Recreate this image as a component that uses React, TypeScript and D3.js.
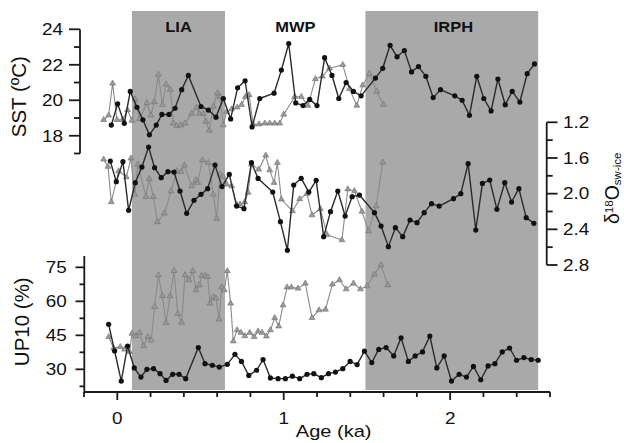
import React from "react";
import * as d3 from "d3";

// ---------------- DATA ----------------
const bandNames = ["LIA", "MWP", "IRPH"];
const shadedBands: [number, number][] = [[0.088, 0.647], [1.491, 2.529]];
const bandLabelAges = [0.368, 1.07, 2.02];

const ageTicks = [0, 1, 2];
const sstTicks = [18, 20, 22, 24];
const d18Ticks = [1.2, 1.6, 2.0, 2.4, 2.8];
const up10Ticks = [30, 45, 60, 75];

// SST (ºC), black circles [age ka, value]
const sstBlack: [number, number][] = [
  [-0.036, 18.6], [0.002, 19.8], [0.042, 18.7], [0.078, 20.5], [0.118, 19.6], [0.154, 18.9],
  [0.193, 18.05], [0.234, 18.6], [0.268, 19.2], [0.311, 19.2], [0.347, 19.55], [0.387, 20.6],
  [0.427, 21.4], [0.503, 19.65], [0.547, 19.45], [0.593, 19.05], [0.637, 20.1], [0.681, 18.95],
  [0.723, 20.7], [0.768, 21.1], [0.81, 18.5], [0.856, 20.1], [0.942, 20.4], [0.986, 21.7],
  [1.03, 23.2], [1.072, 19.85], [1.116, 19.7], [1.156, 20.05], [1.2, 19.7], [1.246, 22.4],
  [1.29, 21.4], [1.331, 20.1], [1.375, 21.0], [1.419, 20.5], [1.465, 20.25], [1.551, 21.25],
  [1.595, 21.8], [1.639, 23.1], [1.681, 22.45], [1.725, 22.8], [1.768, 21.6], [1.81, 21.9],
  [1.854, 21.35], [1.898, 20.15], [1.942, 20.6], [2.028, 20.25], [2.072, 20.0], [2.116, 19.15],
  [2.16, 21.35], [2.202, 20.1], [2.246, 19.4], [2.287, 21.2], [2.331, 19.75], [2.373, 20.5],
  [2.419, 19.9], [2.463, 21.5], [2.507, 22.05],
];

// SST (ºC), gray triangles
const sstGray: [number, number][] = [
  [-0.082, 18.9], [-0.052, 19.15], [-0.028, 20.95], [-0.002, 18.9], [0.032, 18.9], [0.062, 19.45],
  [0.088, 18.85], [0.108, 20.05], [0.134, 18.95], [0.178, 19.85], [0.202, 19.15], [0.222, 19.9],
  [0.247, 21.45], [0.271, 19.75], [0.293, 20.9], [0.319, 20.6], [0.337, 18.7], [0.357, 18.55],
  [0.381, 18.6], [0.407, 18.7], [0.447, 19.25], [0.477, 19.6], [0.493, 19.25], [0.517, 19.25],
  [0.533, 18.8], [0.553, 18.3], [0.577, 19.65], [0.601, 20.4], [0.617, 20.2], [0.637, 18.6],
  [0.657, 19.35], [0.687, 19.5], [0.72, 19.6], [0.747, 19.75], [0.77, 20.2], [0.792, 20.3],
  [0.816, 18.65], [0.852, 18.65], [0.886, 18.7], [0.916, 18.7], [0.946, 18.7], [0.976, 18.7],
  [1.0, 19.2], [1.066, 20.2], [1.106, 20.2], [1.146, 19.7], [1.19, 21.2], [1.232, 21.35],
  [1.275, 21.8], [1.355, 22.0], [1.395, 20.65], [1.439, 19.7], [1.475, 20.85], [1.515, 21.5],
  [1.559, 20.5], [1.6, 19.75],
];

// δ18O sw-ice, black circles
const d18Black: [number, number][] = [
  [-0.042, 1.635], [-0.006, 1.866], [0.034, 1.641], [0.068, 2.187], [0.108, 1.877], [0.148, 1.702],
  [0.188, 1.478], [0.224, 1.709], [0.264, 1.821], [0.304, 1.754], [0.341, 1.758], [0.377, 1.971],
  [0.417, 2.221], [0.461, 2.075], [0.503, 2.008], [0.543, 1.944], [0.587, 1.68], [0.629, 1.921],
  [0.673, 1.784], [0.717, 2.139], [0.761, 2.168], [0.806, 1.653], [0.846, 1.829], [0.934, 1.982],
  [0.98, 2.314], [1.022, 2.635], [1.06, 1.904], [1.105, 1.828], [1.151, 1.982], [1.195, 1.851],
  [1.24, 2.482], [1.281, 2.202], [1.325, 1.971], [1.369, 2.251], [1.411, 2.034], [1.455, 2.016],
  [1.545, 2.213], [1.585, 2.363], [1.629, 2.594], [1.671, 2.381], [1.715, 2.482], [1.759, 2.296],
  [1.801, 2.325], [1.844, 2.213], [1.888, 2.112], [1.934, 2.139], [2.02, 2.056], [2.064, 2.0],
  [2.108, 1.664], [2.154, 2.408], [2.194, 1.885], [2.238, 1.848], [2.281, 2.176], [2.328, 1.877],
  [2.369, 2.094], [2.413, 1.944], [2.457, 2.269], [2.503, 2.333],
];

// δ18O sw-ice, gray triangles
const d18Gray: [number, number][] = [
  [-0.082, 1.616], [-0.056, 1.697], [-0.036, 2.094], [0.008, 1.747], [0.054, 1.814], [0.082, 1.604],
  [0.104, 2.008], [0.124, 1.672], [0.172, 2.034], [0.192, 1.832], [0.217, 2.034], [0.241, 2.318],
  [0.283, 2.221], [0.323, 1.971], [0.357, 1.747], [0.383, 1.754], [0.403, 1.683], [0.447, 1.915],
  [0.473, 1.848], [0.483, 1.877], [0.511, 1.624], [0.547, 1.653], [0.577, 2.008], [0.597, 2.28],
  [0.617, 1.784], [0.637, 1.81], [0.657, 1.896], [0.687, 1.915], [0.717, 2.12], [0.737, 2.12],
  [0.766, 2.094], [0.786, 1.989], [0.806, 1.672], [0.85, 1.728], [0.892, 1.571], [0.916, 1.736],
  [0.942, 1.877], [0.962, 1.653], [0.986, 2.064], [1.053, 2.195], [1.096, 2.06], [1.14, 2.0],
  [1.17, 2.24], [1.22, 2.17], [1.26, 2.46], [1.35, 2.52], [1.385, 1.95], [1.425, 1.97],
  [1.47, 2.2], [1.51, 2.42], [1.555, 2.14], [1.595, 1.65],
];

// UP10 (%), black circles
const up10Black: [number, number][] = [
  [-0.052, 49.9], [-0.016, 38.1], [0.024, 24.8], [0.062, 40.3], [0.102, 30.6], [0.142, 26.6],
  [0.178, 30.0], [0.218, 30.3], [0.257, 28.1], [0.293, 25.1], [0.333, 27.8], [0.371, 27.8],
  [0.411, 25.9], [0.487, 39.6], [0.527, 32.5], [0.571, 31.8], [0.613, 31.0], [0.661, 32.2],
  [0.707, 36.6], [0.746, 33.5], [0.79, 27.3], [0.837, 29.6], [0.876, 34.3], [0.92, 26.2],
  [0.966, 25.9], [1.01, 25.9], [1.052, 27.0], [1.096, 25.9], [1.14, 27.8], [1.181, 28.1],
  [1.226, 26.3], [1.269, 28.1], [1.311, 28.8], [1.355, 30.3], [1.399, 33.5], [1.441, 32.1],
  [1.485, 38.0], [1.529, 33.0], [1.571, 38.8], [1.615, 39.6], [1.661, 35.9], [1.705, 43.9],
  [1.749, 33.5], [1.79, 35.9], [1.834, 37.7], [1.878, 44.7], [1.92, 30.6], [1.964, 35.9],
  [2.008, 24.8], [2.054, 27.8], [2.098, 26.6], [2.14, 31.3], [2.184, 25.4], [2.228, 31.5],
  [2.269, 32.5], [2.313, 37.7], [2.357, 39.4], [2.399, 34.0], [2.443, 35.2], [2.487, 34.3],
  [2.529, 34.0],
];

// UP10 (%), gray triangles
const up10Gray: [number, number][] = [
  [-0.052, 44.3], [-0.022, 39.4], [0.018, 39.9], [0.044, 38.8], [0.074, 37.7], [0.088, 45.8],
  [0.112, 44.7], [0.134, 46.2], [0.158, 40.3], [0.184, 44.3], [0.204, 42.8], [0.224, 57.6],
  [0.247, 71.6], [0.271, 62.4], [0.293, 50.5], [0.317, 62.3], [0.341, 73.5], [0.363, 54.6],
  [0.387, 50.7], [0.407, 71.6], [0.431, 69.4], [0.453, 73.4], [0.473, 65.0], [0.493, 67.2],
  [0.507, 71.3], [0.527, 71.3], [0.543, 70.8], [0.557, 59.1], [0.577, 62.0], [0.593, 61.3],
  [0.611, 52.1], [0.627, 66.2], [0.643, 65.0], [0.661, 73.4], [0.681, 59.1], [0.697, 42.4],
  [0.72, 47.3], [0.743, 46.2], [0.766, 44.7], [0.796, 46.2], [0.822, 44.3], [0.846, 46.8],
  [0.87, 46.2], [0.896, 44.6], [0.92, 47.3], [0.946, 52.7], [0.97, 49.0], [0.996, 58.3],
  [1.02, 66.2], [1.046, 66.2], [1.086, 65.7], [1.13, 67.9], [1.17, 52.7], [1.212, 56.1],
  [1.251, 56.4], [1.292, 67.5], [1.335, 69.4], [1.375, 65.4], [1.419, 67.9], [1.461, 65.4],
  [1.501, 66.7], [1.545, 71.9], [1.585, 76.0], [1.625, 67.2],
];

// ---------------- CHART ----------------
const W = 624;
const H = 443;
const FONT = "'Liberation Sans', Arial, Helvetica, sans-serif";
const AX = "#1a1a1a";
const BAND = "#a9a9a9";
const SX = 1.18;

const x = d3.scaleLinear().domain([-0.2, 2.6]).range([84, 550]);
const ySST = d3.scaleLinear().domain([17, 24]).range([153.5, 29.3]);
const yD18 = d3.scaleLinear().domain([1.2, 2.8]).range([122.3, 265]);
const yUP = d3.scaleLinear().domain([20, 80]).range([392, 256]);

const tri = d3.symbol(d3.symbolTriangle, 15)() as string;

function Series({ data, y, kind }: { data: [number, number][]; y: d3.ScaleLinear<number, number>; kind: "black" | "gray" }) {
  const line = d3.line<[number, number]>().x((d) => x(d[0])).y((d) => y(d[1]));
  const black = kind === "black";
  return (
    <g>
      <path d={line(data) || ""} fill="none" stroke={black ? "#2a2a2a" : "#8a8a8a"} strokeWidth={black ? 1.4 : 1.1} strokeLinejoin="round" />
      {data.map((d, i) =>
        black ? (
          <circle key={i} cx={x(d[0])} cy={y(d[1])} r={2.6} fill="#111" />
        ) : (
          <path key={i} d={tri} transform={`translate(${x(d[0])},${y(d[1])})`} fill="#9a9a9a" stroke="#6e6e6e" strokeWidth={0.6} />
        )
      )}
    </g>
  );
}

function range(a: number, b: number, step: number) {
  const out: number[] = [];
  for (let v = a; v <= b + 1e-9; v += step) out.push(+v.toFixed(4));
  return out;
}

export default function App() {
  const sstMinor = [17, 19, 21, 23];
  const d18Minor = [1.4, 1.8, 2.2, 2.6];
  const upMinor = [22.5, 37.5, 52.5, 67.5];
  const ageMinor = range(-0.2, 2.6, 0.2).filter((v) => Math.abs(v - Math.round(v)) > 1e-6);
  const tickFont = 16;

  return (
    <svg width={W} height={H} style={{ position: "absolute", left: 0, top: 0, background: "#fff" }} fontFamily={FONT}>
      {/* shaded periods */}
      {shadedBands.map((b, i) => (
        <rect key={i} x={x(b[0])} y={11} width={x(b[1]) - x(b[0])} height={390 - 11} fill={BAND} />
      ))}
      {bandNames.map((n, i) => (
        <text key={n} transform={`translate(${x(bandLabelAges[i])},31.5) scale(${SX},1)`} textAnchor="middle" fontWeight="bold" fontSize={14} fill="#111">
          {n}
        </text>
      ))}

      {/* series */}
      <Series data={sstGray} y={ySST} kind="gray" />
      <Series data={sstBlack} y={ySST} kind="black" />
      <Series data={d18Gray} y={yD18} kind="gray" />
      <Series data={d18Black} y={yD18} kind="black" />
      <Series data={up10Gray} y={yUP} kind="gray" />
      <Series data={up10Black} y={yUP} kind="black" />

      {/* SST axis (left, top) */}
      <g stroke={AX} strokeWidth={1.8} fill="none">
        <line x1={80} x2={80} y1={ySST(24)} y2={ySST(17)} />
        {sstTicks.map((t) => <line key={t} x1={69} x2={80} y1={ySST(t)} y2={ySST(t)} />)}
        {sstMinor.map((t) => <line key={t} x1={74} x2={80} y1={ySST(t)} y2={ySST(t)} />)}
      </g>
      {sstTicks.map((t) => (
        <text key={t} transform={`translate(63,${ySST(t) + 5.8}) scale(${SX},1)`} textAnchor="end" fontSize={tickFont} fill="#111">
          {t}
        </text>
      ))}
      <text transform={`translate(26,${ySST(20.2)}) rotate(-90)`} textAnchor="middle" fontSize={20.5} fill="#111">
        SST (ºC)
      </text>

      {/* δ18O axis (right, middle) */}
      <g stroke={AX} strokeWidth={1.8} fill="none">
        <line x1={546.7} x2={546.7} y1={yD18(1.2)} y2={yD18(2.8)} />
        {d18Ticks.map((t) => <line key={t} x1={546.7} x2={557.5} y1={yD18(t)} y2={yD18(t)} />)}
        {d18Minor.map((t) => <line key={t} x1={546.7} x2={552.7} y1={yD18(t)} y2={yD18(t)} />)}
      </g>
      {d18Ticks.map((t) => (
        <text key={t} transform={`translate(563,${yD18(t) + 5.8}) scale(${SX},1)`} textAnchor="start" fontSize={tickFont} fill="#111">
          {t.toFixed(1)}
        </text>
      ))}
      <text transform="translate(618.5,224) rotate(-90)" textAnchor="start" fill="#111" fontSize={19.5}>
        <tspan>δ</tspan>
        <tspan fontSize={11.5} dy={-6}>18</tspan>
        <tspan fontSize={19.5} dy={6}>O</tspan>
        <tspan fontSize={11.5} dy={2.5}>sw-ice</tspan>
      </text>

      {/* UP10 axis (left, bottom) */}
      <g stroke={AX} strokeWidth={1.8} fill="none">
        <line x1={84.3} x2={84.3} y1={yUP(80)} y2={yUP(20)} />
        {up10Ticks.map((t) => <line key={t} x1={75.5} x2={84.3} y1={yUP(t)} y2={yUP(t)} />)}
        {upMinor.map((t) => <line key={t} x1={79.5} x2={84.3} y1={yUP(t)} y2={yUP(t)} />)}
      </g>
      {up10Ticks.map((t) => (
        <text key={t} transform={`translate(66.7,${yUP(t) + 5.8}) scale(${SX},1)`} textAnchor="end" fontSize={tickFont} fill="#111">
          {t}
        </text>
      ))}
      <text transform={`translate(29,${yUP(51)}) rotate(-90)`} textAnchor="middle" fontSize={20.5} fill="#111">
        UP10 (%)
      </text>

      {/* Age axis (bottom) */}
      <g stroke={AX} strokeWidth={1.8} fill="none">
        <line x1={x(-0.2)} x2={x(2.6)} y1={392} y2={392} />
        {ageTicks.map((t) => <line key={t} x1={x(t)} x2={x(t)} y1={392} y2={400} />)}
        {ageMinor.map((t) => <line key={t} x1={x(t)} x2={x(t)} y1={392} y2={397} />)}
      </g>
      {ageTicks.map((t) => (
        <text key={t} transform={`translate(${x(t)},423.5) scale(${SX},1)`} textAnchor="middle" fontSize={tickFont} fill="#111">
          {t}
        </text>
      ))}
      <text transform={`translate(${x(1.3)},436.5) scale(${SX},1)`} textAnchor="middle" fontSize={17} fill="#111">
        Age (ka)
      </text>
    </svg>
  );
}
